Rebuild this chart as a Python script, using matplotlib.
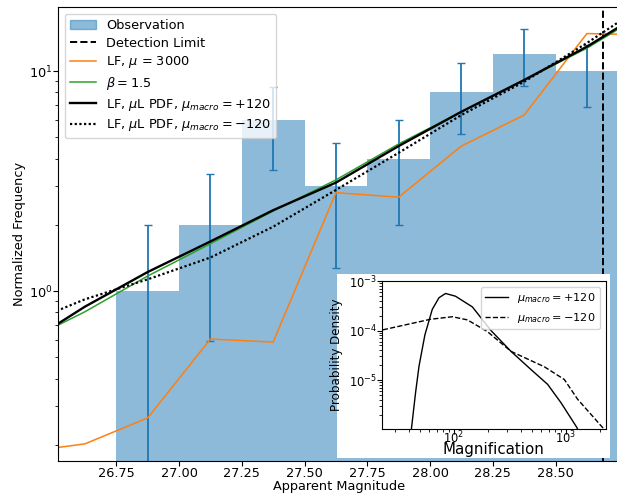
import numpy as np
import matplotlib
matplotlib.use('Agg')
import matplotlib.pyplot as plt
from matplotlib.patches import Rectangle, Patch
from matplotlib.lines import Line2D

plt.rcParams['font.size'] = 9.3
plt.rcParams['xtick.major.pad'] = 0.6
plt.rcParams['ytick.major.pad'] = 0.6

# observed histogram (bin left edges, counts, poisson errors)
bin_left = [26.75, 27.0, 27.25, 27.5, 27.75, 28.0, 28.25, 28.5]
counts = [1, 2, 6, 3, 4, 8, 12, 10]
count_err = [1.0, 1.41, 2.45, 1.73, 2.0, 2.83, 3.46, 3.16]
bin_width = 0.25
det_limit = 28.69

# model luminosity functions
mag = [26.375, 26.625, 26.875, 27.125, 27.375, 27.625, 27.875, 28.125, 28.375, 28.625, 28.875]
lf_mu3000 = [0.185, 0.202, 0.265, 0.605, 0.586, 2.80, 2.67, 4.56, 6.31, 14.8, 14.6]
lf_beta = [0.58, 0.805, 1.17, 1.64, 2.31, 3.2, 4.66, 6.53, 9.1, 12.7, 18.9]
lf_pos = [0.56, 0.849, 1.22, 1.68, 2.33, 3.11, 4.56, 6.53, 9.1, 12.9, 19.3]
lf_neg = [0.70, 0.917, 1.13, 1.42, 1.96, 2.88, 4.25, 6.31, 8.94, 13.4, 20.7]

# magnification PDFs (inset)
mu_pos = [41.6, 45.4, 48.7, 55, 64, 73.5, 84, 103, 146, 214, 323, 486, 686, 902, 1253, 1320]
pdf_pos = [1.0e-6, 5.6e-6, 1.9e-5, 8.2e-5, 2.68e-4, 4.6e-4, 5.6e-4, 4.94e-4, 3.0e-4,
           1.0e-4, 3.8e-5, 1.64e-5, 8.2e-6, 3.5e-6, 1.1e-6, 8.0e-7]
mu_neg = [20, 61.8, 96.8, 132, 199, 323, 640, 966, 1271, 2055, 2300]
pdf_neg = [9.6e-5, 1.69e-4, 1.9e-4, 1.64e-4, 9.5e-5, 3.8e-5, 1.86e-5, 1.03e-5, 4.1e-6, 1.2e-6, 9.0e-7]

fig = plt.figure(figsize=(6.17, 4.97), dpi=100)
ax = fig.add_axes([0.0945, 0.0724, 0.9104, 0.9129])

dots = (0, (1, 1.1))
centers = np.array(bin_left) + bin_width / 2
ax.bar(bin_left, counts, width=bin_width, align='edge', color='C0', alpha=0.5)
ax.errorbar(centers, counts, yerr=count_err, fmt='none', ecolor='C0', capsize=3, lw=1.3)
ax.axvline(det_limit, color='k', ls='--', lw=1.4)
ax.plot(mag, lf_mu3000, color='C1', lw=1.1)
ax.plot(mag, lf_beta, color='C2', lw=1.1)
ax.plot(mag, lf_pos, color='k', lw=1.7)
ax.plot(mag, lf_neg, color='k', ls=dots, lw=1.6)

ax.set_yscale('log')
ax.set_xlim(26.519, 28.757)
ax.set_ylim(0.1688, 19.48)
ax.set_xticks([26.75, 27.0, 27.25, 27.5, 27.75, 28.0, 28.25, 28.5])
ax.set_xticklabels(['26.75', '27.00', '27.25', '27.50', '27.75', '28.00', '28.25', '28.50'])
ax.set_xlabel('Apparent Magnitude', labelpad=0)
ax.set_ylabel('Normalized Frequency', labelpad=2)

handles = [Patch(color='C0', alpha=0.5),
           Line2D([], [], color='k', ls='--', lw=1.4),
           Line2D([], [], color='C1', lw=1.1),
           Line2D([], [], color='C2', lw=1.1),
           Line2D([], [], color='k', lw=1.7),
           Line2D([], [], color='k', ls=dots, lw=1.6)]
labels = ['Observation', 'Detection Limit', r'LF, $\mu$ = 3000', r'$\beta = 1.5$',
          r'LF, $\mu$L PDF, $\mu_{macro} = +120$', r'LF, $\mu$L PDF, $\mu_{macro} = -120$']
ax.legend(handles, labels, loc='upper left', labelspacing=0.36)

# white backing behind the inset and its labels
fig.patches.append(Rectangle((0.5467, 0.0791), 0.442, 0.369, transform=fig.transFigure,
                             facecolor='white', edgecolor='none', zorder=1))

axin = fig.add_axes([0.6196, 0.1368, 0.3618, 0.2978], zorder=2)
axin.plot(mu_pos, pdf_pos, color='k', lw=1.0, label=r'$\mu_{macro} = +120$')
axin.plot(mu_neg, pdf_neg, color='k', ls='--', lw=1.0, label=r'$\mu_{macro} = -120$')
axin.set_xscale('log')
axin.set_yscale('log')
axin.set_xlim(22.9, 2255)
axin.set_ylim(1.03e-6, 1e-3)
axin.tick_params(labelsize=8.3)
axin.tick_params(axis='x', which='major', pad=-2.8)
axin.set_xlabel('Magnification', fontsize=10.8, labelpad=-3.5)
axin.set_ylabel('Probability Density', fontsize=8.6)
axin.legend(loc='upper right', fontsize=8.1)

plt.savefig('out.png', dpi=100)
